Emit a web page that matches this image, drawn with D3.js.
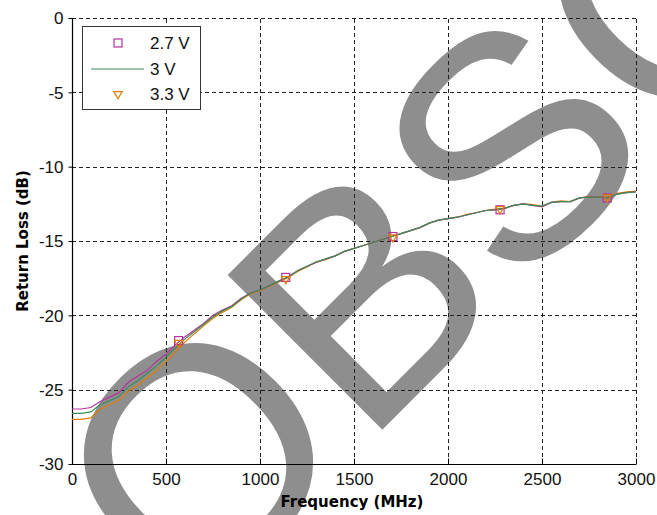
<!DOCTYPE html>
<html>
<head>
<meta charset="utf-8">
<script src="https://cdn.jsdelivr.net/npm/d3@7"></script>
<style>
  html, body { margin: 0; padding: 0; background: #fff; }
  svg { display: block; }
</style>
</head>
<body>
<svg id="chart" width="657" height="515"></svg>
<script>
// ---------- data ----------
const freqs = [0,50,100,150,200,250,300,350,400,450,500,550,600,650,700,750,800,850,900,950,
  1000,1050,1100,1150,1200,1250,1300,1350,1400,1450,1500,1550,1600,1650,1700,1750,1800,1850,1900,1950,
  2000,2050,2100,2150,2200,2250,2300,2350,2400,2450,2500,2550,2600,2650,2700,2750,2800,2850,2900,2950,3000];

const rl27 = [-26.3,-26.3,-26.2,-25.8,-25.5,-25.2,-24.5,-24.1,-23.7,-23.1,-22.6,-22.0,-21.45,-21.0,-20.55,-20.0,-19.65,-19.35,-18.85,-18.5,
  -18.3,-18.0,-17.7,-17.4,-17.0,-16.7,-16.45,-16.2,-16.0,-15.7,-15.5,-15.3,-15.1,-14.9,-14.7,-14.5,-14.3,-14.1,-13.8,-13.6,
  -13.5,-13.4,-13.25,-13.1,-12.95,-12.9,-12.8,-12.6,-12.5,-12.6,-12.7,-12.4,-12.35,-12.35,-12.1,-12.05,-12.05,-12.1,-11.85,-11.75,-11.7];

const rl30 = [-26.6,-26.6,-26.5,-26.0,-25.75,-25.45,-24.8,-24.4,-23.9,-23.4,-22.8,-22.2,-21.6,-21.1,-20.6,-20.1,-19.7,-19.4,-18.9,-18.5,
  -18.3,-18.0,-17.7,-17.4,-17.0,-16.7,-16.4,-16.2,-16.0,-15.7,-15.5,-15.3,-15.1,-14.9,-14.7,-14.5,-14.3,-14.1,-13.8,-13.6,
  -13.5,-13.4,-13.25,-13.1,-12.95,-12.9,-12.8,-12.6,-12.5,-12.6,-12.65,-12.4,-12.35,-12.35,-12.1,-12.05,-12.05,-12.1,-11.85,-11.75,-11.7];

const rl33 = [-27.0,-27.0,-26.9,-26.3,-26.0,-25.7,-25.1,-24.7,-24.2,-23.7,-23.1,-22.45,-21.8,-21.25,-20.7,-20.2,-19.8,-19.45,-18.95,-18.55,
  -18.35,-18.05,-17.75,-17.45,-17.05,-16.75,-16.4,-16.25,-16.0,-15.7,-15.5,-15.3,-15.1,-14.9,-14.7,-14.5,-14.3,-14.1,-13.8,-13.6,
  -13.5,-13.4,-13.2,-13.1,-12.95,-12.85,-12.8,-12.6,-12.5,-12.55,-12.65,-12.4,-12.3,-12.35,-12.1,-12.0,-12.05,-12.05,-11.8,-11.7,-11.65];

const markerFreqs = [567,1137,1707,2277,2847];
const marker27 = [-21.7,-17.45,-14.7,-12.9,-12.1];
const marker33 = [-21.85,-17.55,-14.75,-12.85,-12.05];

const xTicks = [0,500,1000,1500,2000,2500,3000];
const yTicks = [0,-5,-10,-15,-20,-25,-30];
const seriesNames = ["2.7 V","3 V","3.3 V"];
const colors = { v27: "#b8329e", v30: "#3a8c58", v33: "#e07d00" };

// ---------- layout ----------
const svg = d3.select("#chart");
const W = 657, H = 515;
const m = { left: 72, right: 21, top: 18, bottom: 51 };
const x = d3.scaleLinear().domain([0, 3000]).range([m.left, W - m.right]);
const y = d3.scaleLinear().domain([-30, 0]).range([H - m.bottom, m.top]);
const font = "'Liberation Sans', Arial, sans-serif";
const titleFont = "'DejaVu Sans', Verdana, sans-serif";

// ---------- watermark (background) ----------
svg.append("text")
  .attr("transform", "translate(189,623) rotate(-45)")
  .attr("font-family", font)
  .attr("font-size", 318)
  .attr("fill", "#8e8e8e")
  .text("OBSOLETE");

// ---------- grid ----------
const grid = svg.append("g").attr("stroke", "#222").attr("stroke-width", 1).attr("stroke-dasharray", "4,3");
grid.selectAll(".gx").data(xTicks.filter(d => d > 0)).join("line")
  .attr("x1", d => Math.round(x(d)) + 0.5).attr("x2", d => Math.round(x(d)) + 0.5)
  .attr("y1", y(-30)).attr("y2", y(0));
grid.selectAll(".gy").data(yTicks.filter(d => d > -30)).join("line")
  .attr("y1", d => Math.round(y(d)) + 0.5).attr("y2", d => Math.round(y(d)) + 0.5)
  .attr("x1", x(0)).attr("x2", x(3000));

// ---------- axes ----------
const fmt = d => String(d);
const xAxis = svg.append("g").attr("transform", `translate(0,${Math.round(y(-30)) + 0.5})`)
  .call(d3.axisBottom(x).tickValues(xTicks).tickSize(-6).tickPadding(8).tickFormat(fmt));
const yAxis = svg.append("g").attr("transform", `translate(${Math.round(x(0)) + 0.5},0)`)
  .call(d3.axisLeft(y).tickValues(yTicks).tickSize(4).tickPadding(5).tickFormat(fmt));
[xAxis, yAxis].forEach(a => {
  a.select(".domain").attr("stroke", "#000").attr("stroke-width", 1.2);
  a.selectAll(".tick line").attr("stroke", "#000");
  a.selectAll(".tick text").attr("font-family", font).attr("font-size", 17).attr("fill", "#111");
});
xAxis.select(".domain").attr("d", `M${x(0)},0H${x(3000)}`);
yAxis.select(".domain").attr("d", `M0,${y(-30)}V${y(0)}`);
yAxis.selectAll(".tick text").attr("dy", "0.35em");

// axis titles
svg.append("text")
  .attr("x", 352).attr("y", 507)
  .attr("text-anchor", "middle")
  .attr("font-family", titleFont).attr("font-weight", "bold").attr("font-size", 15)
  .text("Frequency (MHz)");
svg.append("text")
  .attr("transform", `translate(28,${(y(0) + y(-30)) / 2}) rotate(-90)`)
  .attr("text-anchor", "middle")
  .attr("font-family", titleFont).attr("font-weight", "bold").attr("font-size", 15)
  .text("Return Loss (dB)");

// ---------- lines ----------
const line = d3.line().x((d, i) => x(freqs[i])).y(d => y(d));
const plot = svg.append("g");
plot.append("path").datum(rl33).attr("d", line).attr("fill", "none").attr("stroke", colors.v33).attr("stroke-width", 1.2);
plot.append("path").datum(rl27).attr("d", line).attr("fill", "none").attr("stroke", colors.v27).attr("stroke-width", 1.2);
plot.append("path").datum(rl30).attr("d", line).attr("fill", "none").attr("stroke", colors.v30).attr("stroke-width", 1.2);

// markers
const sq = 8;
plot.selectAll(".m27").data(marker27).join("rect")
  .attr("x", (d, i) => x(markerFreqs[i]) - sq / 2).attr("y", d => y(d) - sq / 2)
  .attr("width", sq).attr("height", sq)
  .attr("fill", "none").attr("stroke", colors.v27).attr("stroke-width", 1.2);
const tri = d3.symbol().type(d3.symbolTriangle).size(30);
plot.selectAll(".m33").data(marker33).join("path")
  .attr("d", tri)
  .attr("transform", (d, i) => `translate(${x(markerFreqs[i])},${y(d)}) rotate(180)`)
  .attr("fill", "none").attr("stroke", colors.v33).attr("stroke-width", 1.2);

// ---------- legend ----------
const lg = svg.append("g");
lg.append("rect").attr("x", 82.5).attr("y", 26.5).attr("width", 118).attr("height", 83)
  .attr("fill", "#fff").attr("stroke", "#333").attr("stroke-width", 1);
const rows = [43, 69, 94];
lg.append("rect").attr("x", 118 - 4).attr("y", rows[0] - 4).attr("width", 8).attr("height", 8)
  .attr("fill", "none").attr("stroke", colors.v27).attr("stroke-width", 1.2);
lg.append("line").attr("x1", 91).attr("x2", 144).attr("y1", rows[1]).attr("y2", rows[1])
  .attr("stroke", colors.v30).attr("stroke-width", 1.2);
lg.append("path").attr("d", tri).attr("transform", `translate(118,${rows[2]}) rotate(180)`)
  .attr("fill", "none").attr("stroke", colors.v33).attr("stroke-width", 1.2);
lg.selectAll(".lt").data(seriesNames).join("text")
  .attr("x", 150).attr("y", (d, i) => rows[i]).attr("dy", "0.35em")
  .attr("font-family", font).attr("font-size", 17).attr("fill", "#111")
  .text(d => d);
</script>
</body>
</html>
